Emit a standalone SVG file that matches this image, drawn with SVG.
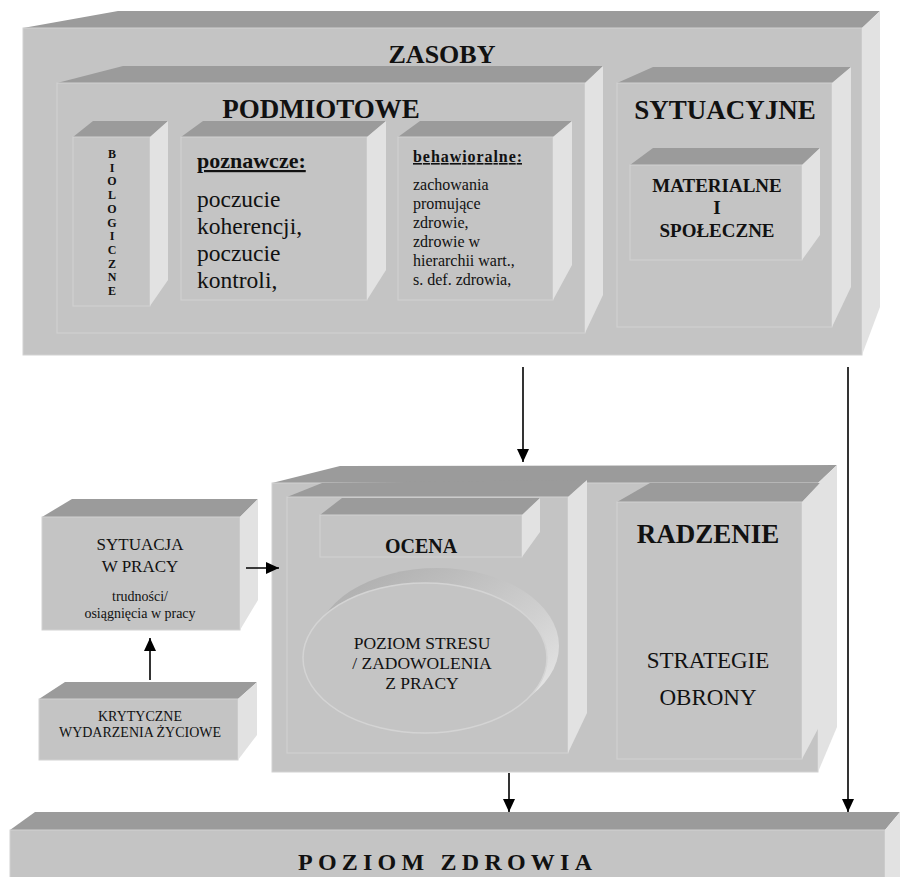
<svg xmlns="http://www.w3.org/2000/svg" width="900" height="877" viewBox="0 0 900 877">
<style>
.top{fill:#9b9b9b}
.front{fill:#c4c4c4;stroke:#d2d2d2;stroke-width:1}
.side{fill:#e2e2e2}
text{font-family:"Liberation Serif","Times New Roman",serif;fill:#111;text-anchor:middle}
.b{font-weight:bold}
.l{text-anchor:start}
.u{text-decoration:underline}
.conn line{stroke:#000;stroke-width:1.6}
</style>
<defs>
<marker id="ah" markerUnits="userSpaceOnUse" markerWidth="13" markerHeight="12" refX="13" refY="6" orient="auto">
<path d="M0,0 L13,6 L0,12 Z" fill="#000"/>
</marker>
<linearGradient id="rim" x1="0" y1="0" x2="1" y2="1">
<stop offset="0" stop-color="#a8a8a8"/>
<stop offset="0.6" stop-color="#d0d0d0"/>
<stop offset="1" stop-color="#eeeeee"/>
</linearGradient>
</defs>
<rect width="900" height="877" fill="#fff"/>

<g id="zasoby">
<polygon class="top" points="23,28 118,11 880,11 862,28"/>
<rect class="front" x="23" y="28" width="839" height="327"/>
<polygon class="side" points="862,28 880,11 880,307 862,355"/>
<text class="b" x="442" y="63" font-size="26">ZASOBY</text>
</g>

<g id="podmiotowe">
<polygon class="top" points="57,83 123,66 603,66 585,83"/>
<rect class="front" x="57" y="83" width="528" height="250"/>
<polygon class="side" points="585,83 603,66 603,295 585,333"/>
<text class="b" x="321" y="118" font-size="27">PODMIOTOWE</text>
</g>

<g id="biologiczne">
<polygon class="top" points="73,137 93,121 168,121 150,137"/>
<rect class="front" x="73" y="137" width="77" height="169"/>
<polygon class="side" points="150,137 168,121 168,280 150,306"/>
<text class="b" x="112" font-size="12"><tspan x="112" y="158">B</tspan><tspan x="112" y="171.7">I</tspan><tspan x="112" y="185.4">O</tspan><tspan x="112" y="199.1">L</tspan><tspan x="112" y="212.8">O</tspan><tspan x="112" y="226.5">G</tspan><tspan x="112" y="240.2">I</tspan><tspan x="112" y="253.9">C</tspan><tspan x="112" y="267.6">Z</tspan><tspan x="112" y="281.3">N</tspan><tspan x="112" y="295">E</tspan></text>
</g>

<g id="poznawcze">
<polygon class="top" points="181,137 203,121 386,121 367,137"/>
<rect class="front" x="181" y="137" width="186" height="163"/>
<polygon class="side" points="367,137 386,121 386,270 367,300"/>
<text class="b l u" x="197" y="168" font-size="22">poznawcze:</text>
<text class="l" font-size="23.5"><tspan x="197" y="207">poczucie</tspan><tspan x="197" y="234">koherencji,</tspan><tspan x="197" y="261">poczucie</tspan><tspan x="197" y="288">kontroli,</tspan></text>
</g>

<g id="behawioralne">
<polygon class="top" points="398,137 420,121 572,121 553,137"/>
<rect class="front" x="398" y="137" width="155" height="163"/>
<polygon class="side" points="553,137 572,121 572,265 553,300"/>
<text class="b l u" x="413" y="162" font-size="16" textLength="109" lengthAdjust="spacing">behawioralne:</text>
<text class="l" font-size="16"><tspan x="413" y="190">zachowania</tspan><tspan x="413" y="209">promujące</tspan><tspan x="413" y="228">zdrowie,</tspan><tspan x="413" y="247">zdrowie w</tspan><tspan x="413" y="266">hierarchii wart.,</tspan><tspan x="413" y="285">s. def. zdrowia,</tspan></text>
</g>

<g id="sytuacyjne">
<polygon class="top" points="617,83 653,67 851,67 832,83"/>
<rect class="front" x="617" y="83" width="215" height="244"/>
<polygon class="side" points="832,83 851,67 851,287 832,327"/>
<text class="b" x="725" y="119" font-size="27">SYTUACYJNE</text>
</g>

<g id="materialne">
<polygon class="top" points="630,165 653,148 820,148 802,165"/>
<rect class="front" x="630" y="165" width="172" height="95"/>
<polygon class="side" points="802,165 820,148 820,235 802,260"/>
<text class="b" font-size="19"><tspan x="717" y="192">MATERIALNE</tspan><tspan x="717" y="214">I</tspan><tspan x="717" y="237">SPOŁECZNE</tspan></text>
</g>

<g id="sytuacja">
<polygon class="top" points="42,517 72,499 258,499 240,517"/>
<rect class="front" x="42" y="517" width="198" height="113"/>
<polygon class="side" points="240,517 258,499 258,600 240,630"/>
<text font-size="17"><tspan x="140" y="550">SYTUACJA</tspan><tspan x="140" y="572">W PRACY</tspan></text>
<text font-size="14"><tspan x="140" y="601">trudności/</tspan><tspan x="140" y="618">osiągnięcia w pracy</tspan></text>
</g>

<g id="krytyczne">
<polygon class="top" points="39,699 65,682 257,682 238,699"/>
<rect class="front" x="39" y="699" width="199" height="61"/>
<polygon class="side" points="238,699 257,682 257,735 238,760"/>
<text font-size="14"><tspan x="140" y="721">KRYTYCZNE</tspan><tspan x="140" y="737">WYDARZENIA ŻYCIOWE</tspan></text>
</g>

<g id="ocena-radzenie">
<polygon class="top" points="272,483 340,466 837,465 818,483"/>
<rect class="front" x="272" y="483" width="546" height="289"/>
<polygon class="side" points="818,483 837,465 837,727 818,772"/>
</g>

<g id="ocena-panel">
<polygon class="top" points="287,497 322,483 587,480 568,497"/>
<rect class="front" x="287" y="497" width="281" height="256"/>
<polygon class="side" points="568,497 587,480 587,713 568,753"/>
</g>

<g id="ocena">
<polygon class="top" points="320,515 342,498 540,498 522,515"/>
<rect class="front" x="320" y="515" width="202" height="42"/>
<polygon class="side" points="522,515 540,498 540,532 522,557"/>
<text class="b" x="421" y="553" font-size="20">OCENA</text>
</g>

<g id="stres">
<ellipse cx="437" cy="646" rx="122" ry="78" fill="url(#rim)"/>
<ellipse cx="425" cy="658" rx="122" ry="75" fill="#c4c4c4" stroke="#d4d4d4" stroke-width="1.5"/>
<text font-size="17.5"><tspan x="422" y="649">POZIOM STRESU</tspan><tspan x="422" y="669">/ ZADOWOLENIA</tspan><tspan x="422" y="689">Z PRACY</tspan></text>
</g>

<g id="radzenie">
<polygon class="top" points="617,502 650,483 820,483 802,502"/>
<rect class="front" x="617" y="502" width="185" height="257"/>
<polygon class="side" points="802,502 820,483 820,725 802,759"/>
<text class="b" x="708" y="543" font-size="27">RADZENIE</text>
<text font-size="23"><tspan x="708" y="668">STRATEGIE</tspan><tspan x="708" y="705">OBRONY</tspan></text>
</g>

<g id="zdrowie">
<polygon class="top" points="10,830 35,812 900,812 885,830"/>
<rect class="front" x="10" y="830" width="875" height="50"/>
<polygon class="side" points="885,830 900,812 900,877 885,877"/>
<text class="b" x="445" y="870" font-size="24" textLength="294" lengthAdjust="spacing">POZIOM ZDROWIA</text>
</g>

<g class="conn" id="connectors">
<line x1="523" y1="367" x2="523" y2="462" marker-end="url(#ah)"/>
<line x1="848" y1="367" x2="848" y2="812" marker-end="url(#ah)"/>
<line x1="246" y1="568" x2="279" y2="568" stroke-width="2" marker-end="url(#ah)"/>
<line x1="150" y1="680" x2="150" y2="638" stroke-width="2" marker-end="url(#ah)"/>
<line x1="509" y1="773" x2="509" y2="812" marker-end="url(#ah)"/>
</g>
</svg>
